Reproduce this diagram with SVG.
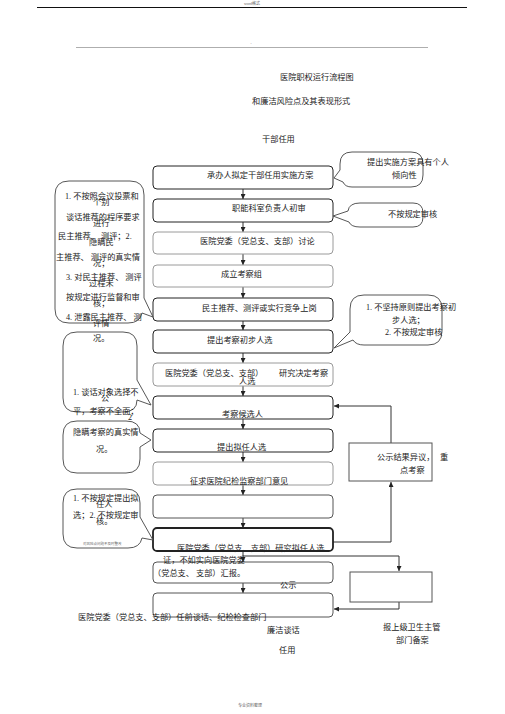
<svg xmlns="http://www.w3.org/2000/svg" width="505" height="714" viewBox="0 0 505 714">
<style>
text{font-family:"Liberation Serif","Noto Sans CJK SC",serif;font-size:8.2px;fill:#222}
.box{fill:#fff;stroke:#222;stroke-width:1}
.gbox{fill:#fff;stroke:#9a9a9a;stroke-width:1}
.call{fill:#fff;stroke:#444;stroke-width:0.9}
.conn{fill:none;stroke:#333;stroke-width:1}
.tiny{font-size:3.5px;fill:#666}
.c{text-anchor:middle}
</style>
<defs>
<marker id="ah" viewBox="0 0 6 6" refX="6" refY="3" markerWidth="5" markerHeight="5" orient="auto">
<path d="M0,0 L6,3 L0,6 Z" fill="#222"/>
</marker>
</defs>
<g id="page">
<text x="252" y="5" class="tiny c" style="font-size:4px">word格式</text>
<line x1="37" y1="7.5" x2="467" y2="7.5" stroke="#111" stroke-width="1"/>
<line x1="76" y1="47.5" x2="428" y2="47.5" stroke="#999" stroke-width="0.8"/>
<text x="251" y="45" class="tiny c">-</text>
<text x="280" y="80">医院职权运行流程图</text>
<text x="252" y="104">和廉洁风险点及其表现形式</text>
<text x="262" y="142">干部任用</text>
<text x="250" y="707" class="tiny c" style="font-size:4px">专业资料整理</text>
</g>
<g id="connectors">
<line class="conn" x1="243" y1="189" x2="243" y2="199" marker-end="url(#ah)"/>
<line class="conn" x1="243" y1="222" x2="243" y2="232" marker-end="url(#ah)"/>
<line class="conn" x1="243" y1="254" x2="243" y2="265" marker-end="url(#ah)"/>
<line class="conn" x1="243" y1="287" x2="243" y2="298" marker-end="url(#ah)"/>
<line class="conn" x1="243" y1="321" x2="243" y2="330" marker-end="url(#ah)"/>
<line class="conn" x1="243" y1="353" x2="243" y2="363" marker-end="url(#ah)"/>
<line class="conn" x1="243" y1="386" x2="243" y2="396" marker-end="url(#ah)"/>
<line class="conn" x1="243" y1="419" x2="243" y2="429" marker-end="url(#ah)"/>
<line class="conn" x1="243" y1="452" x2="243" y2="462" marker-end="url(#ah)"/>
<line class="conn" x1="243" y1="485" x2="243" y2="495" marker-end="url(#ah)"/>
<line class="conn" x1="243" y1="518" x2="243" y2="528" marker-end="url(#ah)"/>
<line class="conn" x1="243" y1="551" x2="243" y2="562" marker-end="url(#ah)"/>
<line class="conn" x1="243" y1="583" x2="243" y2="593" marker-end="url(#ah)"/>
<path class="conn" d="M391,443 V406 H334" marker-end="url(#ah)"/>
<path class="conn" d="M333,542 H391 V482" marker-end="url(#ah)"/>
<path class="conn" d="M243,556 H399 V571" marker-end="url(#ah)"/>
<path class="conn" d="M399,602 V609 H334" marker-end="url(#ah)"/>
</g>
<g id="n1"><rect class="box" x="153" y="166" width="180" height="23" rx="4"/><text x="207" y="178">承办人拟定干部任用实施方案</text></g>
<g id="n2"><rect class="box" x="153" y="199" width="180" height="23" rx="4"/><text x="232" y="211">职能科室负责人初审</text></g>
<g id="n3"><rect class="gbox" x="153" y="232" width="180" height="22" rx="4"/><text x="200" y="244">医院党委（党总支、支部）讨论</text></g>
<g id="n4"><rect class="gbox" x="153" y="265" width="180" height="22" rx="4"/><text x="221" y="277">成立考察组</text></g>
<g id="n5"><rect class="box" x="153" y="298" width="180" height="23" rx="4"/><text x="202" y="311">民主推荐、测评或实行竞争上岗</text></g>
<g id="n6"><rect class="box" x="153" y="330" width="180" height="23" rx="4"/><text x="207" y="343">提出考察初步人选</text></g>
<g id="n7"><rect class="gbox" x="153" y="363" width="180" height="23" rx="4"/><text x="165" y="376">医院党委（党总支、支部）</text><text x="279" y="376">研究决定考察</text><text x="239" y="384">人选</text></g>
<g id="n8"><rect class="box" x="153" y="396" width="180" height="23" rx="4"/><text x="222" y="417">考察候选人</text></g>
<g id="n9"><rect class="box" x="153" y="429" width="180" height="23" rx="4"/><text x="217" y="450">提出拟任人选</text></g>
<g id="n10"><rect class="gbox" x="153" y="462" width="180" height="23" rx="4"/><text x="190" y="484">征求医院纪检监察部门意见</text></g>
<g id="n11"><rect class="box" x="153" y="495" width="180" height="23" rx="4" style="stroke:#555"/></g>
<g id="n12"><rect class="box" x="153" y="528" width="180" height="23" rx="4" style="stroke-width:1.8"/><text x="177" y="551">医院党委（党总支、支部）研究拟任人选</text></g>
<g id="n13"><rect class="box" x="153" y="562" width="180" height="21" rx="4" style="stroke:#555"/><text x="163" y="563">证，不如实向医院党委</text><text x="153" y="576">（党总支、 支部）汇报。</text><text x="280" y="588">公示</text></g>
<g id="n14"><rect class="box" x="153" y="593" width="180" height="24" rx="4" style="stroke:#555"/><text x="78" y="620">医院党委（党总支、支部）任前谈话、纪检检查部门</text><text x="267" y="633">廉洁谈话</text><text x="279" y="653">任用</text></g>
<g id="n-gongshi"><rect class="box" x="349" y="443" width="83" height="38" style="stroke:#555"/><text x="377" y="460">公示结果异议，</text><text x="440" y="460">重</text><text x="400" y="473">点考察</text></g>
<g id="n-baobei"><rect class="box" x="350" y="572" width="82" height="30" style="stroke:#555"/><text x="383" y="630">报上级卫生主管</text><text x="396" y="643">部门备案</text></g>
<g id="callA"><path class="call" d="M69,181 H130 Q144,181 144,195 V298 L153,317 L142,313 Q140,323 128,323 H69 Q55,323 55,309 V195 Q55,181 69,181 Z"/>
<text x="65" y="199">1. 不按照会议投票和</text><text x="93" y="205">个别</text>
<text x="66" y="220">谈话推荐的程序要求</text><text x="93" y="226">进行</text>
<text x="58" y="239">民主推荐、 测评；2.</text><text x="89" y="245">隐瞒民</text>
<text x="56" y="260">主推荐、 测评的真实情</text><text x="93" y="266">况；</text>
<text x="66" y="280">3. 对民主推荐、 测评</text><text x="89" y="286">过程未</text>
<text x="66" y="300">按规定进行监督和审</text><text x="93" y="306">核；</text>
<text x="66" y="320">4. 泄露民主推荐、 测</text><text x="93" y="326">评情</text></g>
<g id="callB"><path class="call" d="M77,332 H123 Q137,332 137,346 V380 L151,405 L137,400 Q137,412 123,412 H77 Q63,412 63,398 V346 Q63,332 77,332 Z"/>
<text x="93" y="341">况。</text>
<text x="73" y="395">1. 谈话对象选择不</text><text x="101" y="401">公</text>
<text x="73" y="414">平，考察不全面；</text><text x="128" y="420">2</text></g>
<g id="callC"><path class="call" d="M77,421 H126 Q140,421 140,433 L151,440 L140,447 V459 Q140,473 126,473 H77 Q63,473 63,459 V435 Q63,421 77,421 Z"/>
<text x="73" y="435">隐瞒考察的真实情</text><text x="96" y="452">况。</text></g>
<g id="callD"><path class="call" d="M77,489 H126 Q140,489 140,503 V517 L153,540 L142,538 Q140,548 128,548 H77 Q63,548 63,534 V503 Q63,489 77,489 Z"/>
<text x="73" y="501">1. 不按规定提出拟</text><text x="96" y="507">任人</text>
<text x="73" y="518">选；2. 不按规定审</text><text x="96" y="524">核。</text>
<text x="83" y="545" class="tiny">对风险点问题不及时整改</text></g>
<g id="callR1"><path class="call" d="M352,152 H411 Q423,152 423,164 V175 Q423,187 411,187 H352 Q345,187 343,182 L334,178 L340,170 V164 Q340,152 352,152 Z"/>
<text x="367" y="165">提出实施方案具有个人</text><text x="392" y="178">倾向性</text></g>
<g id="callR2"><path class="call" d="M360,203 H413 Q423,203 423,213 V217 Q423,227 413,227 H360 Q351,227 349,222 L333,216 L348,211 Q349,203 360,203 Z"/>
<text x="388" y="217">不按规定审核</text></g>
<g id="callR3"><path class="call" d="M364,295 H428 Q442,295 442,309 V331 Q442,345 428,345 H364 Q356,345 353,340 L334,348 L350,332 V309 Q350,295 364,295 Z"/>
<text x="366" y="310">1. 不坚持原则提出考察初</text><text x="392" y="323">步人选；</text><text x="385" y="335">2. 不按规定审核</text></g>
</svg>
